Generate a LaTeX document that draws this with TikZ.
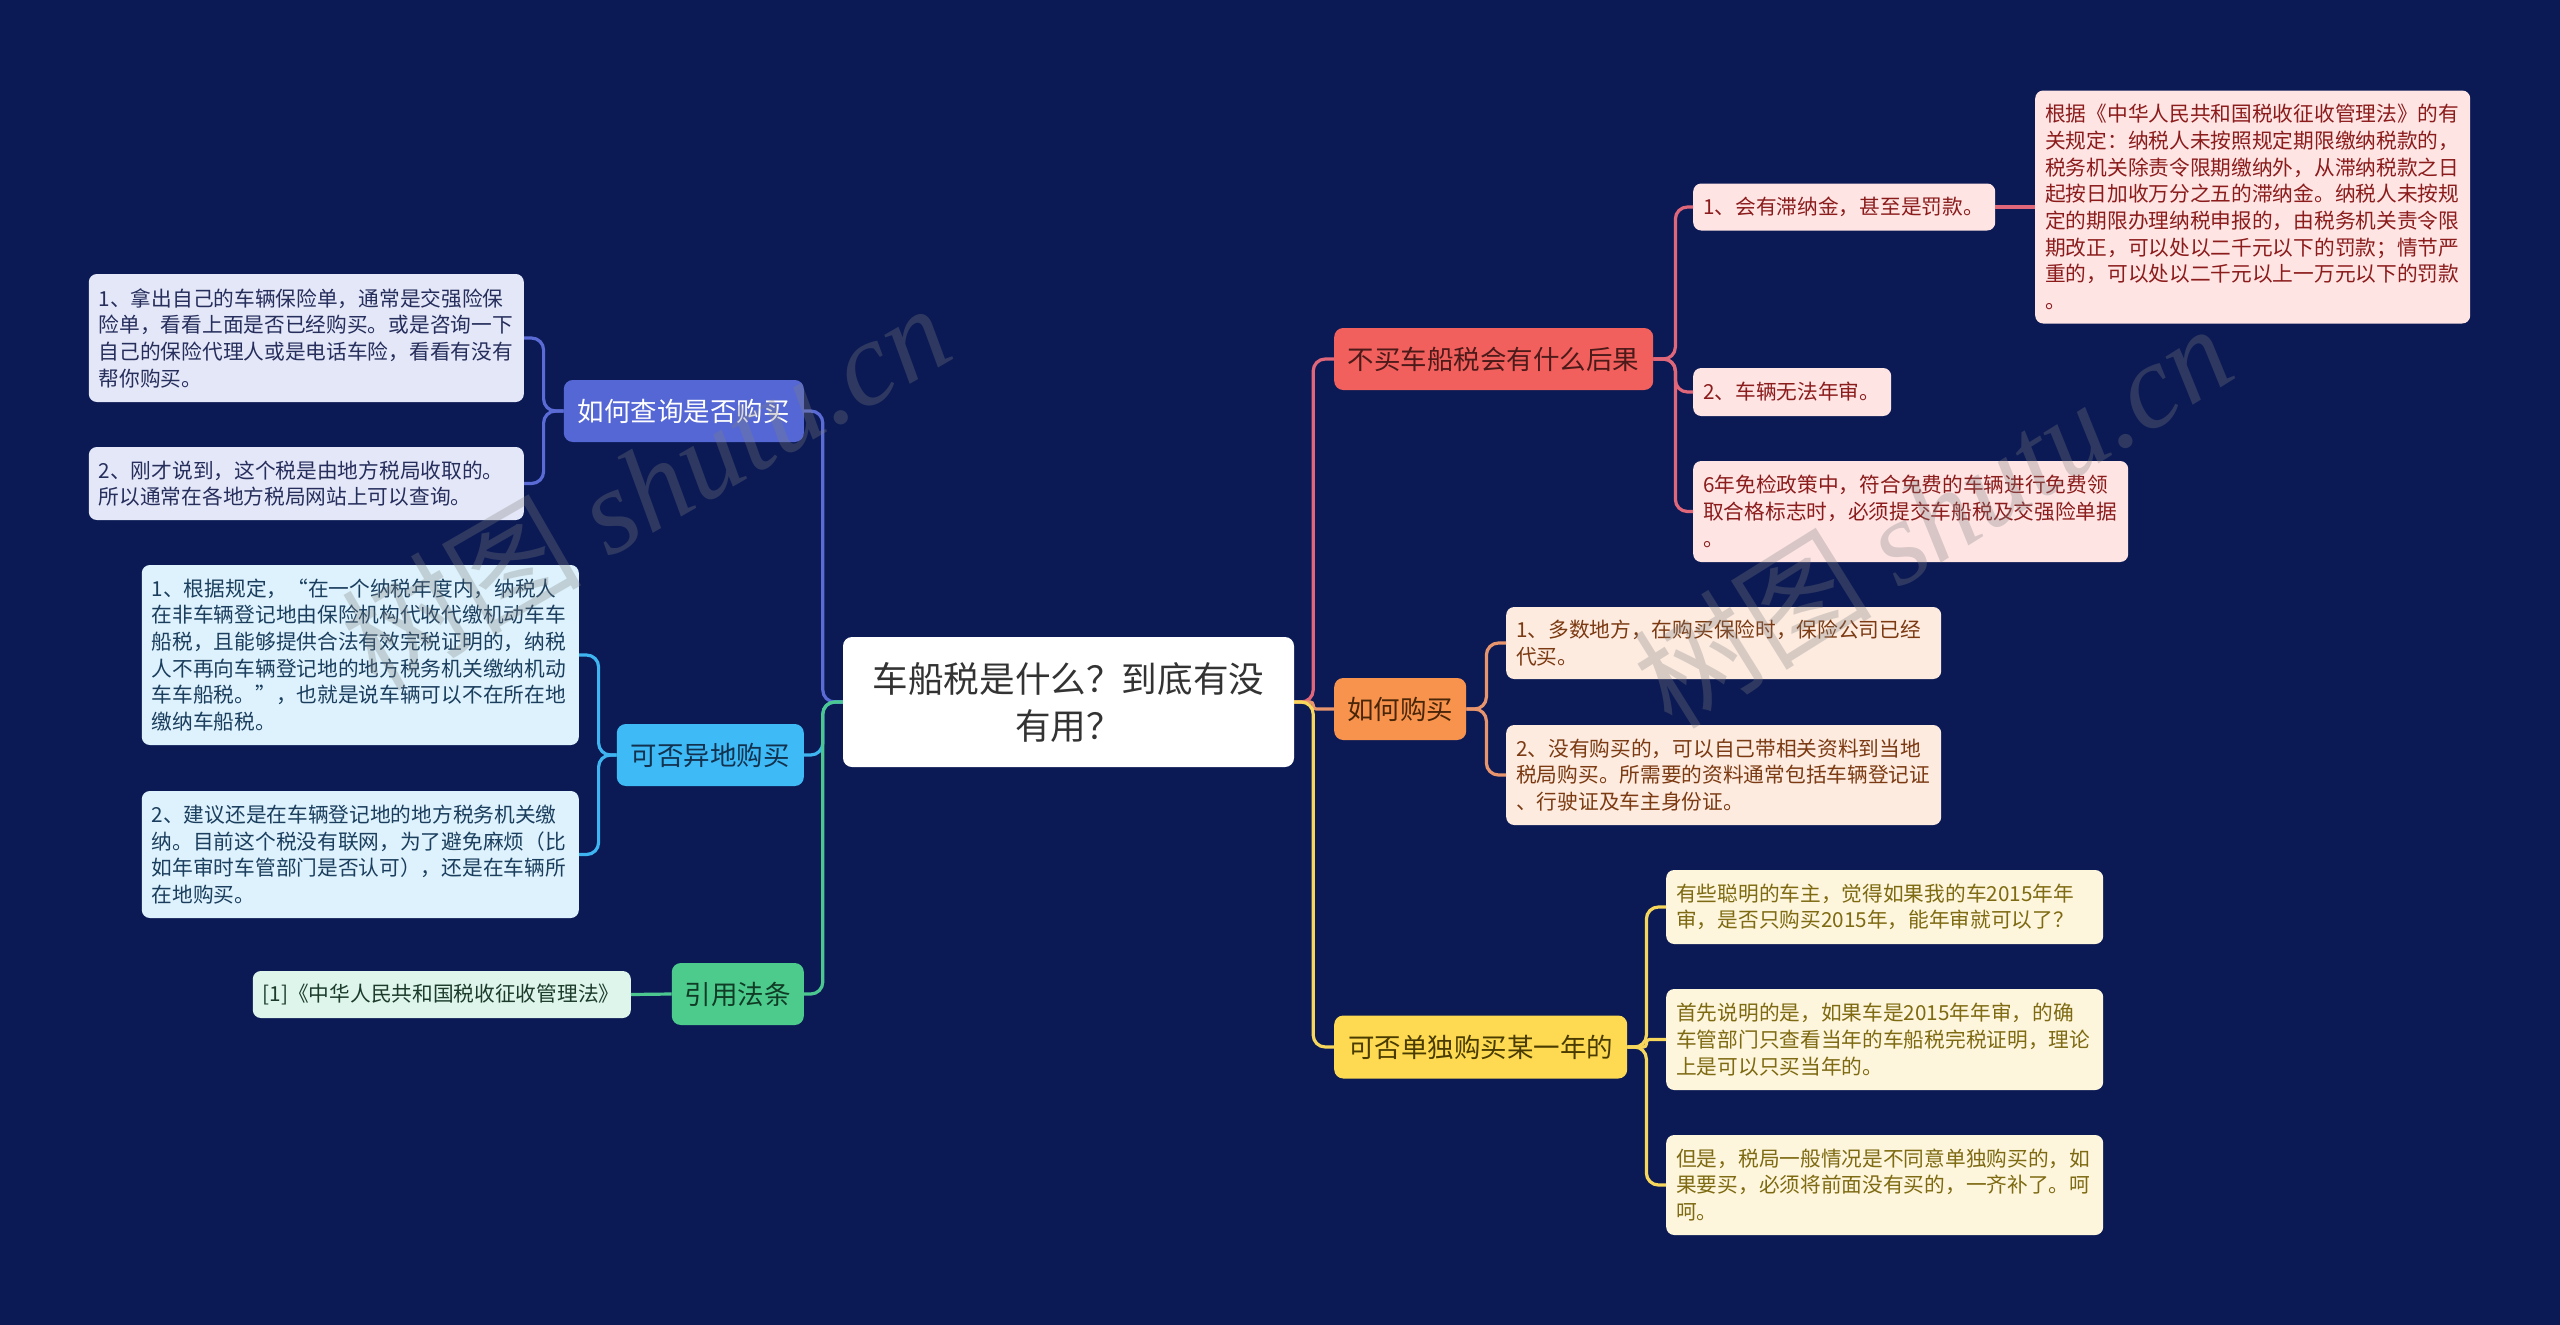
\documentclass[tikz,border=0pt]{standalone}
\usepackage{fontspec}
\setmainfont{Noto Sans CJK SC}
\newfontfamily\wmfont{Liberation Serif}
\usetikzlibrary{calc}
\definecolor{bgc}{HTML}{0B1A55}
\definecolor{rootc}{HTML}{333333}
\definecolor{rfill}{HTML}{F2605D}
\definecolor{rtext}{HTML}{4D1A1A}
\definecolor{rline}{HTML}{E0677A}
\definecolor{rcfill}{HTML}{FFE4E4}
\definecolor{rctext}{HTML}{8B1C1C}
\definecolor{ofill}{HTML}{F8934E}
\definecolor{otext}{HTML}{4A2608}
\definecolor{oline}{HTML}{E8956D}
\definecolor{ocfill}{HTML}{FDEBE0}
\definecolor{octext}{HTML}{7B3A12}
\definecolor{yfill}{HTML}{FDDA52}
\definecolor{ytext}{HTML}{4A3C00}
\definecolor{yline}{HTML}{F6D75C}
\definecolor{ycfill}{HTML}{FEF6DC}
\definecolor{yctext}{HTML}{7D6A12}
\definecolor{bfill}{HTML}{5567D4}
\definecolor{bline}{HTML}{5A6BD6}
\definecolor{bcfill}{HTML}{E4E7F8}
\definecolor{bctext}{HTML}{262E5C}
\definecolor{lfill}{HTML}{3EBAF6}
\definecolor{ltext}{HTML}{12324F}
\definecolor{lline}{HTML}{3EB4F0}
\definecolor{lcfill}{HTML}{DDF2FC}
\definecolor{lctext}{HTML}{1B3E5E}
\definecolor{gfill}{HTML}{4CCB8D}
\definecolor{gtext}{HTML}{103C26}
\definecolor{gline}{HTML}{4CC790}
\definecolor{gcfill}{HTML}{DDF5EA}
\definecolor{gctext}{HTML}{1C3B2C}
\newcommand{\fchild}{\fontsize{20.7pt}{26.7pt}\selectfont}
\newcommand{\fbranch}{\fontsize{26.5pt}{32pt}\selectfont}
\newcommand{\froot}{\fontsize{35.6pt}{47pt}\selectfont}
\newcommand{\fwm}{\fontsize{120pt}{130pt}\selectfont}
\begin{document}
\begin{tikzpicture}[x=1pt,y=-1pt,
  rootbox/.style={fill=white, text=rootc, rounded corners=9pt, font=\froot, align=center, inner sep=0pt},
  brbox/.style={rounded corners=9pt, font=\fbranch, align=center, inner sep=0pt},
  cbox/.style={rounded corners=8pt, font=\fchild, align=left, inner xsep=10pt, inner ysep=0pt},
  conn/.style={line width=3.2pt, rounded corners=12pt},
  smallr/.style={rounded corners=3pt},
  wmark/.style={text=gray, opacity=0.3, font=\fwm, inner sep=0pt}
]
\fill[bgc] (0,0) rectangle (2560,1325);
\useasboundingbox (0,0) rectangle (2560,1325);

% root
\node[rootbox, minimum width=451pt, minimum height=130pt] (root) at (1068.5,702) {车船税是什么？到底有没\\有用？};

% branches
\node[brbox, fill=rfill, text=rtext, minimum width=319pt, minimum height=62pt, anchor=west] (R) at (1334,359) {不买车船税会有什么后果};
\node[brbox, fill=ofill, text=otext, minimum width=132pt, minimum height=62pt, anchor=west] (O) at (1334,709) {如何购买};
\node[brbox, fill=yfill, text=ytext, minimum width=293pt, minimum height=63pt, anchor=west] (Y) at (1334,1047) {可否单独购买某一年的};
\node[brbox, fill=bfill, text=white, minimum width=240pt, minimum height=62pt, anchor=east] (B) at (804,411) {如何查询是否购买};
\node[brbox, fill=lfill, text=ltext, minimum width=187pt, minimum height=62pt, anchor=east] (L) at (804,755) {可否异地购买};
\node[brbox, fill=gfill, text=gtext, minimum width=132pt, minimum height=62pt, anchor=east] (G) at (804,994) {引用法条};

% red children
\node[cbox, fill=rcfill, text=rctext, text width=282pt, minimum height=47pt, anchor=west] (r1) at (1693,207) {1、会有滞纳金，甚至是罚款。};
\node[cbox, fill=rcfill, text=rctext, text width=178pt, minimum height=48pt, anchor=west] (r2) at (1693,392) {2、车辆无法年审。};
\node[cbox, fill=rcfill, text=rctext, text width=415pt, minimum height=101pt, anchor=west] (r3) at (1693,511.5) {6年免检政策中，符合免费的车辆进行免费领\\取合格标志时，必须提交车船税及交强险单据\\。};
\node[cbox, fill=rcfill, text=rctext, text width=415pt, minimum height=233pt, anchor=west] (ra) at (2035,207) {根据《中华人民共和国税收征收管理法》的有\\关规定：纳税人未按照规定期限缴纳税款的，\\税务机关除责令限期缴纳外，从滞纳税款之日\\起按日加收万分之五的滞纳金。纳税人未按规\\定的期限办理纳税申报的，由税务机关责令限\\期改正，可以处以二千元以下的罚款；情节严\\重的，可以处以二千元以上一万元以下的罚款\\。};

% orange children
\node[cbox, fill=ocfill, text=octext, text width=415pt, minimum height=72pt, anchor=west] (o1) at (1506,643) {1、多数地方，在购买保险时，保险公司已经\\代买。};
\node[cbox, fill=ocfill, text=octext, text width=415pt, minimum height=100pt, anchor=west] (o2) at (1506,775) {2、没有购买的，可以自己带相关资料到当地\\税局购买。所需要的资料通常包括车辆登记证\\、行驶证及车主身份证。};

% yellow children
\node[cbox, fill=ycfill, text=yctext, text width=417pt, minimum height=74pt, anchor=west] (y1) at (1666,907) {有些聪明的车主，觉得如果我的车2015年年\\审，是否只购买2015年，能年审就可以了？};
\node[cbox, fill=ycfill, text=yctext, text width=417pt, minimum height=101pt, anchor=west] (y2) at (1666,1039.5) {首先说明的是，如果车是2015年年审，的确\\车管部门只查看当年的车船税完税证明，理论\\上是可以只买当年的。};
\node[cbox, fill=ycfill, text=yctext, text width=417pt, minimum height=100pt, anchor=west] (y3) at (1666,1185) {但是，税局一般情况是不同意单独购买的，如\\果要买，必须将前面没有买的，一齐补了。呵\\呵。};

% blue children
\node[cbox, fill=bcfill, text=bctext, text width=415pt, minimum height=128pt, anchor=east] (b1) at (524,338) {1、拿出自己的车辆保险单，通常是交强险保\\险单，看看上面是否已经购买。或是咨询一下\\自己的保险代理人或是电话车险，看看有没有\\帮你购买。};
\node[cbox, fill=bcfill, text=bctext, text width=415pt, minimum height=73pt, anchor=east] (b2) at (524,483.5) {2、刚才说到，这个税是由地方税局收取的。\\所以通常在各地方税局网站上可以查询。};

% light blue children
\node[cbox, fill=lcfill, text=lctext, text width=417pt, minimum height=180pt, anchor=east] (l1) at (579,655) {1、根据规定，“在一个纳税年度内，纳税人\\在非车辆登记地由保险机构代收代缴机动车车\\船税，且能够提供合法有效完税证明的，纳税\\人不再向车辆登记地的地方税务机关缴纳机动\\车车船税。”，也就是说车辆可以不在所在地\\缴纳车船税。};
\node[cbox, fill=lcfill, text=lctext, text width=417pt, minimum height=127pt, anchor=east] (l2) at (579,854.5) {2、建议还是在车辆登记地的地方税务机关缴\\纳。目前这个税没有联网，为了避免麻烦（比\\如年审时车管部门是否认可），还是在车辆所\\在地购买。};

% green child
\node[cbox, fill=gcfill, text=gctext, text width=358pt, minimum height=47pt, anchor=east] (g1) at (631,994.5) {[1]《中华人民共和国税收征收管理法》};

% main connectors right
\draw[conn, rline] (root.east) -- ++(19pt,0) |- (R.west);
\draw[conn, oline, smallr] (root.east) -- ++(19pt,0) |- (O.west);
\draw[conn, yline] (root.east) -- ++(19pt,0) |- (Y.west);
% main connectors left
\draw[conn, bline] (root.west) -- ++(-20pt,0) |- (B.east);
\draw[conn, lline] (root.west) -- ++(-20pt,0) |- (L.east);
\draw[conn, gline] (root.west) -- ++(-20pt,0) |- (G.east);

% red sub
\draw[conn, rline] (R.east) -- ++(22pt,0) |- (r1.west);
\draw[conn, rline] (R.east) -- ++(22pt,0) |- (r2.west);
\draw[conn, rline] (R.east) -- ++(22pt,0) |- (r3.west);
\draw[conn, rline] (r1.east) -- (ra.west);
% orange sub
\draw[conn, oline] (O.east) -- ++(20pt,0) |- (o1.west);
\draw[conn, oline] (O.east) -- ++(20pt,0) |- (o2.west);
% yellow sub
\draw[conn, yline] (Y.east) -- ++(19pt,0) |- (y1.west);
\draw[conn, yline, smallr] (Y.east) -- ++(19pt,0) |- (y2.west);
\draw[conn, yline] (Y.east) -- ++(19pt,0) |- (y3.west);
% blue sub
\draw[conn, bline] (B.west) -- ++(-20pt,0) |- (b1.east);
\draw[conn, bline] (B.west) -- ++(-20pt,0) |- (b2.east);
% light blue sub
\draw[conn, lline] (L.west) -- ++(-18pt,0) |- (l1.east);
\draw[conn, lline] (L.west) -- ++(-18pt,0) |- (l2.east);
% green sub
\draw[conn, gline] (G.west) -- (g1.east);

% watermarks
\node[wmark, rotate=30] (wm1) at (645,485) {树图 {\wmfont\itshape shutu.cn}};
\node[wmark, rotate=32] (wm2) at (1932,515) {树图 {\wmfont\itshape shutu.cn}};
\end{tikzpicture}
\end{document}
